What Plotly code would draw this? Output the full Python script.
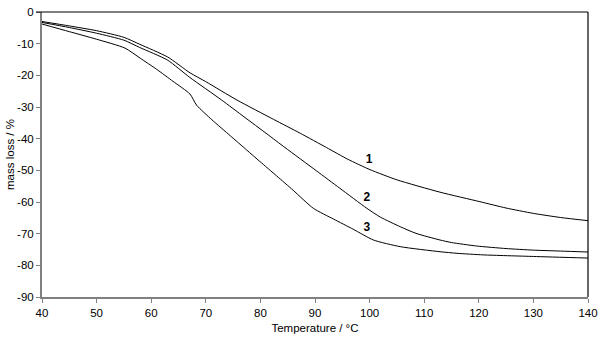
import plotly.graph_objects as go

temp1 = [40, 45, 50, 55, 57.9, 63, 67.1, 70, 75.7, 82.4, 87.3, 92.1, 96, 100.1, 105, 112.9, 120.2, 125, 130, 135, 140]
loss1 = [-3.0, -4.4, -5.9, -8.0, -10.2, -14.2, -19.2, -22.0, -27.8, -33.9, -38.3, -42.8, -46.5, -49.8, -53.0, -56.9, -59.9, -61.9, -63.6, -64.9, -65.9]

temp2 = [40, 45, 50, 55, 57.9, 63, 67.1, 72.9, 77, 81.2, 84.5, 90.3, 94.5, 99.5, 102, 105.6, 108.5, 112.9, 115, 119.6, 125, 130, 135, 140]
loss2 = [-3.3, -4.9, -6.7, -8.9, -11.2, -15.2, -20.7, -27.8, -33.1, -38.5, -42.8, -50.2, -55.6, -62.0, -64.8, -67.8, -69.9, -72.0, -72.8, -73.9, -74.7, -75.2, -75.5, -75.8]

temp3 = [40, 45, 50, 55.2, 58, 61, 64, 67.1, 68.3, 71.1, 74.5, 77.5, 79.9, 83, 86, 89.7, 93.4, 97, 100.7, 105.6, 112.9, 116, 120.8, 130, 140]
loss3 = [-3.8, -6.2, -8.6, -11.4, -14.6, -18.1, -21.9, -25.9, -29.4, -34.0, -39.1, -43.6, -47.2, -51.8, -56.3, -62.0, -65.4, -68.6, -72.0, -74.1, -75.7, -76.2, -76.7, -77.2, -77.7]

label_text = ["1", "2", "3"]
label_x = [99.9, 99.5, 99.5]
label_y = [-46.7, -58.8, -68.3]

x_ticks = [40, 50, 60, 70, 80, 90, 100, 110, 120, 130, 140]
y_ticks = [0, -10, -20, -30, -40, -50, -60, -70, -80, -90]
y_tick_text = ["0", "-10", "-20", "-30", "-40", "-50", "-60", "-70", "-80", "-90"]

fig = go.Figure()
for tx, ly in [(temp1, loss1), (temp2, loss2), (temp3, loss3)]:
    fig.add_trace(go.Scatter(x=tx, y=ly, mode="lines", line=dict(color="black", width=1, shape="spline", smoothing=0.6),
                             showlegend=False, hoverinfo="skip"))

fig.add_trace(go.Scatter(x=label_x, y=label_y, mode="text", text=label_text,
                         textfont=dict(family="Liberation Sans, Arial", size=12, color="black", weight="bold"),
                         showlegend=False, hoverinfo="skip"))

fig.update_layout(
    width=604, height=351,
    margin=dict(l=42, r=16, t=12, b=54, autoexpand=False),
    plot_bgcolor="white", paper_bgcolor="white",
    font=dict(family="Liberation Sans, Arial", size=11.5, color="black"),
    xaxis=dict(range=[40, 140], tickvals=x_ticks, ticks="outside", ticklen=4, tickcolor="#808080",
               showline=True, linecolor="#808080", linewidth=2, showgrid=False, zeroline=False,
               automargin=False, ticklabeloverflow="allow",
               title=dict(text="Temperature / °C", standoff=6, font=dict(size=11.5))),
    yaxis=dict(range=[-90, 0], tickvals=y_ticks, ticktext=y_tick_text, ticks="outside", ticklen=4, tickcolor="#808080",
               showline=True, linecolor="#808080", linewidth=2, showgrid=False, zeroline=False,
               automargin=False, ticklabeloverflow="allow",
               title=dict(text="mass loss / %", standoff=0, font=dict(size=11.5))),
    shapes=[
        dict(type="line", xref="paper", yref="paper", x0=-6 / 546, x1=1, y0=1, y1=1, line=dict(color="black", width=1.2)),
        dict(type="line", xref="paper", yref="paper", x0=1, x1=1, y0=0, y1=1, line=dict(color="black", width=1.2)),
    ],
)

fig.write_html("out.html", config={"displayModeBar": False},
               post_script="document.body.style.margin='0';document.body.style.overflow='hidden';")
